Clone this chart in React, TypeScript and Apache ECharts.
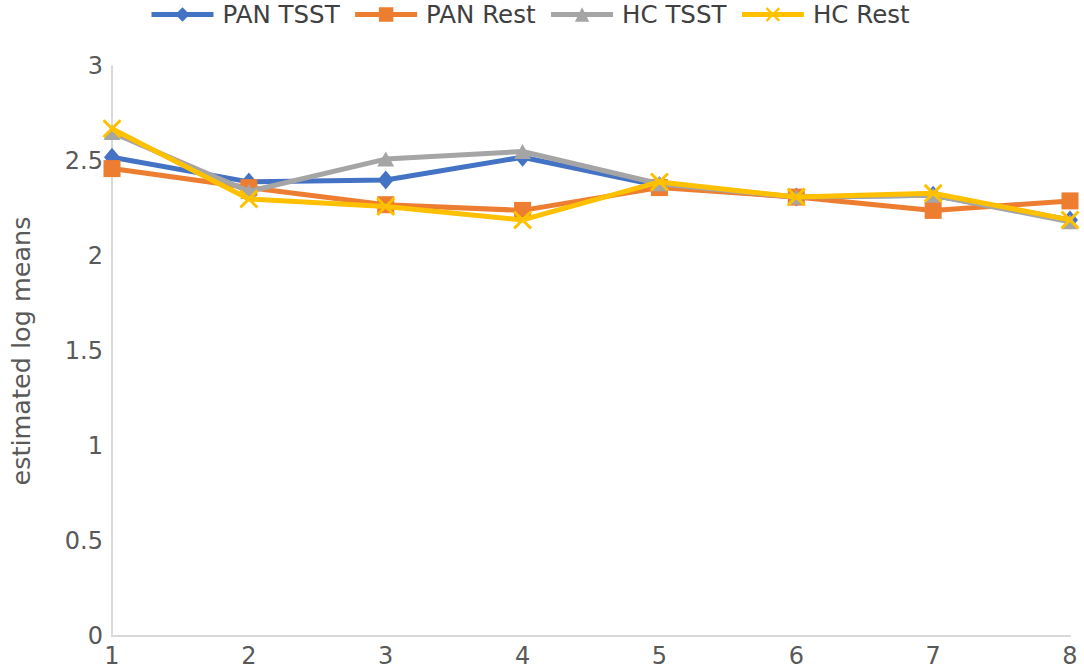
import React, { useEffect, useRef } from "react";
import * as echarts from "echarts";

const categories = ["1", "2", "3", "4", "5", "6", "7", "8"];
const panTsst = [2.52, 2.39, 2.40, 2.52, 2.37, 2.31, 2.32, 2.19];
const panRest = [2.46, 2.36, 2.27, 2.24, 2.36, 2.31, 2.24, 2.29];
const hcTsst = [2.65, 2.34, 2.51, 2.55, 2.38, 2.31, 2.32, 2.18];
const hcRest = [2.67, 2.30, 2.26, 2.19, 2.39, 2.31, 2.33, 2.19];
const seriesNames = ["PAN TSST", "PAN Rest", "HC TSST", "HC Rest"];
const colors = ["#4472C4", "#ED7D31", "#A5A5A5", "#FFC000"];

const X_SYMBOL =
  "path://M0,1.1L1.1,0L5,3.9L8.9,0L10,1.1L6.1,5L10,8.9L8.9,10L5,6.1L1.1,10L0,8.9L3.9,5Z";

export default function App() {
  const ref = useRef<HTMLDivElement>(null);
  useEffect(() => {
    if (!ref.current) return;
    const chart = echarts.init(ref.current, undefined, { renderer: "svg" });
    const font = "DejaVu Sans";
    const datasets = [panTsst, panRest, hcTsst, hcRest];
    const symbols = ["diamond", "rect", "triangle", X_SYMBOL];
    const sizes = [[16, 19], 17, [17, 15], 19];
    chart.setOption({
      animation: false,
      color: colors,
      textStyle: { fontFamily: font },
      legend: {
        left: 144,
        top: 0,
        padding: [2, 5, 2, 5],
        itemWidth: 62,
        itemHeight: 18,
        itemGap: 13,
        lineStyle: { width: 5 },
        textStyle: { fontSize: 24.5, color: "#404040", fontFamily: font, padding: [0, 0, 0, 4] },
        data: seriesNames,
      },
      grid: { left: 109, right: 14, top: 66, bottom: 36 },
      xAxis: {
        type: "category",
        data: categories,
        boundaryGap: false,
        axisLine: { lineStyle: { color: "#d9d9d9", width: 2 } },
        axisTick: { show: false },
        axisLabel: { fontSize: 24, color: "#595959", margin: 8, fontFamily: font },
        splitLine: { show: false },
      },
      yAxis: {
        type: "value",
        min: 0,
        max: 3,
        interval: 0.5,
        name: "estimated log means",
        nameLocation: "middle",
        nameGap: 78,
        nameTextStyle: { fontSize: 25.5, color: "#595959", fontFamily: font },
        axisLine: { show: true, lineStyle: { color: "#d9d9d9", width: 2 } },
        axisTick: { show: false },
        axisLabel: { fontSize: 24, color: "#595959", margin: 9, fontFamily: font },
        splitLine: { show: false },
      },
      series: datasets.map((d, i) => ({
        name: seriesNames[i],
        type: "line",
        data: d,
        symbol: symbols[i],
        symbolSize: sizes[i],
        showAllSymbol: true,
        lineStyle: { width: 5, color: colors[i] },
        itemStyle: { color: colors[i] },
        z: 2 + i,
      })),
    });
    return () => chart.dispose();
  }, []);
  return <div ref={ref} style={{ width: 1084, height: 672, position: "absolute", left: 0, top: 0 }} />;
}
